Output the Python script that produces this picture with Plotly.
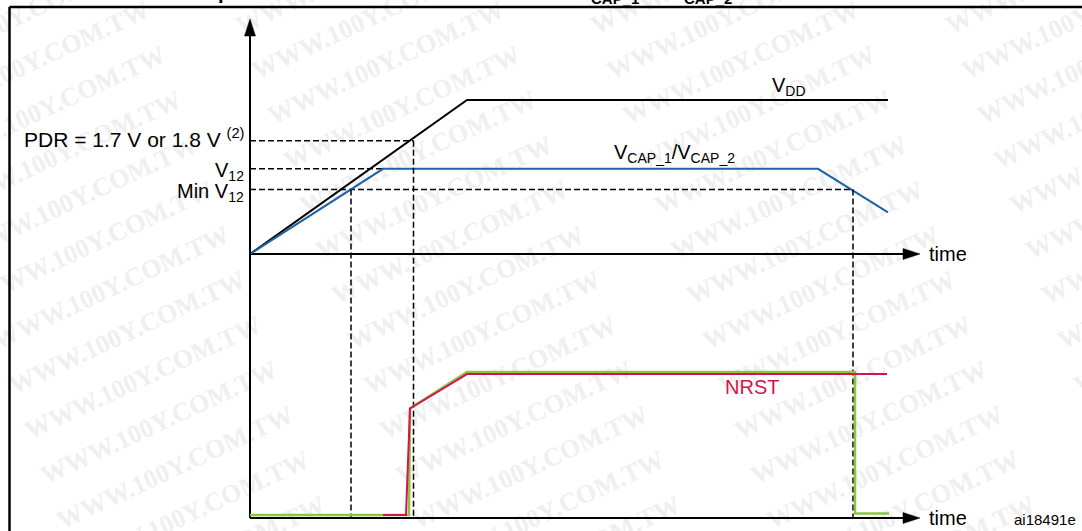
import math
import numpy as np
import plotly.graph_objects as go

# ---------------- data ----------------
# time in arbitrary units; supply voltages normalised to VDD; reset signal normalised to its high level
vdd_t = [0.0, 21.7, 63.8]
vdd_v = [0.0, 1.0, 1.0]
vcap_t = [0.0, 13.3, 56.8, 63.8]
vcap_v = [0.0, 0.553, 0.553, 0.27]

pdr_level = 0.735
v12_level = 0.553
minv12_level = 0.419

marker_t = [10.1, 16.35, 60.3]                 # dashed time markers
marker_level = [minv12_level, pdr_level, minv12_level]

reset_t = [0.0, 15.9, 16.0, 21.7, 60.5, 60.5, 63.9]   # green internal reset
reset_v = [0.02, 0.02, 0.75, 1.0, 1.0, 0.03, 0.03]
nrst_t = [13.3, 15.6, 16.0, 21.7, 63.7]               # NRST pin
nrst_v = [0.02, 0.02, 0.75, 0.986, 0.986]

time_end = 67.0

# ---------------- layout constants ----------------
W, H = 1082, 531
X0, SX = 250.0, 10.0      # pixel of t=0, pixels per time unit
YT0, SYT = 254.0, 154.0   # top panel: pixel of 0, pixels per unit
YB0, SYB = 518.0, 146.0   # bottom panel
Y_TIP = 19.0
ARR_L, ARR_HW = 17.0, 5.5

BLACK = "#000000"
BLUE = "#1f63a6"
RED = "#d5144a"
GREEN = "#8cc63e"
FONT = "Liberation Sans, Arial, sans-serif"


def top_to_bot(v):
    return (YB0 - (YT0 - v * SYT)) / SYB


fig = go.Figure()


def line(x, y, color, width, dash=None, axis="y"):
    fig.add_trace(go.Scatter(x=x, y=y, mode="lines", yaxis=axis,
                             line=dict(color=color, width=width, dash=dash),
                             hoverinfo="skip", showlegend=False))


def poly(x, y, axis="y"):
    fig.add_trace(go.Scatter(x=x, y=y, mode="lines", fill="toself", fillcolor=BLACK, yaxis=axis,
                             line=dict(color=BLACK, width=0.5), hoverinfo="skip", showlegend=False))


# dashed guide lines
DASH = "6px,3px"
t_pdr = marker_t[1]
line([0, t_pdr], [pdr_level, pdr_level], BLACK, 1.5, DASH)
line([0, vcap_t[1]], [v12_level, v12_level], BLACK, 1.5, DASH)
line([0, marker_t[2]], [minv12_level, minv12_level], BLACK, 1.5, DASH)
for t, lv in zip(marker_t, marker_level):
    line([t, t], [top_to_bot(lv), 0], BLACK, 1.5, DASH, axis="y2")

# axes
tip_n = (YB0 - Y_TIP) / SYB
line([0, 0], [0, tip_n - (ARR_L - 2) / SYB], BLACK, 2, axis="y2")
poly([0, -ARR_HW / SX, ARR_HW / SX, 0], [tip_n, tip_n - ARR_L / SYB, tip_n - ARR_L / SYB, tip_n], axis="y2")
line([0, time_end - (ARR_L - 2) / SX], [0, 0], BLACK, 2)
poly([time_end, time_end - ARR_L / SX, time_end - ARR_L / SX, time_end],
     [0, ARR_HW / SYT, -ARR_HW / SYT, 0])
line([0, time_end - (ARR_L - 2) / SX], [0, 0], BLACK, 2, axis="y2")
poly([time_end, time_end - ARR_L / SX, time_end - ARR_L / SX, time_end],
     [0, ARR_HW / SYB, -ARR_HW / SYB, 0], axis="y2")

# signals
line(vdd_t, vdd_v, BLACK, 2)
line(vcap_t, vcap_v, BLUE, 2)
line(reset_t, reset_v, GREEN, 2.5, axis="y2")
line(nrst_t, nrst_v, RED, 2, axis="y2")


# ---------------- text ----------------
def ann(text, x_px, y_px, xanchor="left", size=20, color=BLACK, family=FONT, yshift=0):
    return dict(text=text, x=x_px / W, y=1 - y_px / H, xref="paper", yref="paper",
                xanchor=xanchor, yanchor="middle", showarrow=False, yshift=yshift,
                font=dict(family=family, size=size, color=color))


def ypx_top(v):
    return YT0 - v * SYT


annotations = [
    ann("PDR = 1.7 V or 1.8 V <sup>(2)</sup>", 246, ypx_top(pdr_level) - 3, "right", size=21),
    ann("V<sub>12</sub>", 246, ypx_top(v12_level) + 3, "right"),
    ann("Min V<sub>12</sub>", 246, ypx_top(minv12_level) + 3, "right"),
    ann("V<sub>DD</sub>", 770, 86),
    ann("V<sub>CAP_1</sub>/V<sub>CAP_2</sub>", 612, 153),
    ann("time", 927, YT0),
    ann("time", 927, YB0),
    ann("NRST", 723, 387, color=RED),
    ann("ai18491e", 1012, 519, size=15),
    # clipped title fragments at the very top
    ann("<b>CAP_1</b>", 589, -1, size=15),
    ann("<b>CAP_2</b>", 682, -1, size=15),
    ann("<b>p</b>", 216, -8, size=20),
]

# ---------------- watermark & frame (shapes) ----------------
shapes = []
ang = math.radians(25)
dx, dy = 120 * math.cos(ang), 120 * math.sin(ang)
for i in range(-4, 4):
    for k in range(-10, 6):
        cx = 487 + 16 * k + 355 * i
        cy = 346 + 45 * k
        if cx < -170 or cx > W + 170 or cy < -70 or cy > H + 70:
            continue
        shapes.append(dict(type="line", xref="paper", yref="paper", layer="below",
                           x0=(cx - dx) / W, y0=1 - (cy + dy) / H,
                           x1=(cx + dx) / W, y1=1 - (cy - dy) / H,
                           line=dict(color="rgba(0,0,0,0)", width=0),
                           label=dict(text="WWW.100Y.COM.TW", textangle=-25, textposition="middle",
                                      font=dict(family="Liberation Serif, Times New Roman, serif",
                                                size=26, color="#efefef", weight="bold"))))
shapes.append(dict(type="line", xref="paper", yref="paper", x0=9.5 / W, x1=1.0,
                   y0=1 - 7 / H, y1=1 - 7 / H, line=dict(color=BLACK, width=2.5)))
shapes.append(dict(type="line", xref="paper", yref="paper", x0=9.5 / W, x1=9.5 / W,
                   y0=1 - 7 / H, y1=0, line=dict(color=BLACK, width=2.5)))

fig.update_layout(
    width=W, height=H,
    margin=dict(l=0, r=0, t=0, b=0, pad=0),
    paper_bgcolor="white", plot_bgcolor="white",
    xaxis=dict(range=[-X0 / SX, (W - X0) / SX], visible=False, fixedrange=True),
    yaxis=dict(range=[(YT0 - H) / SYT, YT0 / SYT], visible=False, fixedrange=True),
    yaxis2=dict(range=[(YB0 - H) / SYB, YB0 / SYB], visible=False, overlaying="y", fixedrange=True),
    annotations=annotations,
    shapes=shapes,
    showlegend=False,
    hovermode=False,
)

fig.write_html("out.html", config={"displayModeBar": False},
               post_script="document.body.style.margin='0';document.body.style.overflow='hidden';")
